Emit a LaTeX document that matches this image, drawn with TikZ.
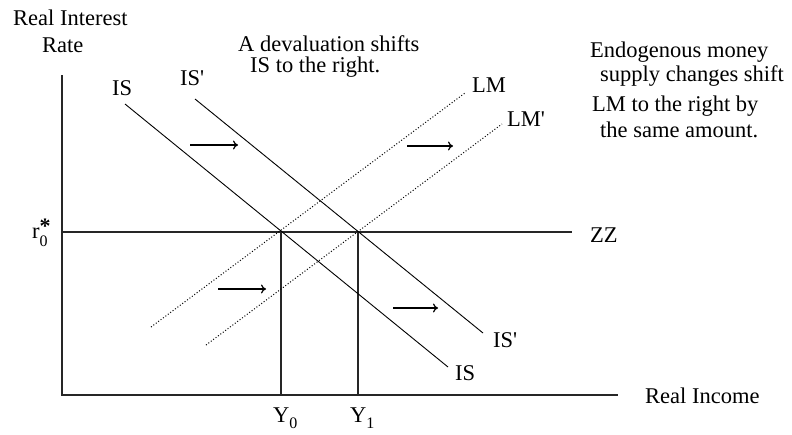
\documentclass[tikz,border=0pt]{standalone}
\usepackage{fontspec}
\setmainfont{Liberation Serif}
\usetikzlibrary{arrows.meta}
\newcommand{\lowsub}[1]{\raisebox{-6pt}{\fontsize{16}{16}\selectfont #1}}
\newcommand{\starsub}[2]{\rlap{\raisebox{5pt}{\fontsize{22}{22}\selectfont\bfseries #1}}\raisebox{-8pt}{\fontsize{16}{16}\selectfont #2}}

\begin{document}
\begin{tikzpicture}[x=1pt,y=-1pt,
      every node/.style={font=\fontsize{22.5}{26}\selectfont,inner sep=0pt,anchor=base west},
      axis/.style={line width=1.6pt,black!85},
      guide/.style={line width=1.6pt,black!85},
      isline/.style={line width=0.9pt},
      lmline/.style={line width=1pt,dash pattern=on 1pt off 2pt},
      push/.style={-{To[length=5pt,width=9pt]},line width=1.2pt},
    ]
    \useasboundingbox (0,0) rectangle (792,434);

    % Axes
    \coordinate (origin) at (62,395);
    \coordinate (ytop) at (62,75);
    \coordinate (xend) at (618,395);
    \draw[axis] (ytop) -- (origin) -- (xend);

    % World interest rate ZZ and the two equilibria
    \coordinate (zzL) at (62,232);
    \coordinate (zzR) at (572,232);
    \coordinate (eqA) at (281,232);
    \coordinate (eqB) at (358,232);
    \coordinate (footA) at (281,395);
    \coordinate (footB) at (358,395);
    \draw[guide] (zzL) -- (zzR);
    \draw[guide] (eqA) -- (footA);
    \draw[guide] (eqB) -- (footB);

    % IS curves: before and after the devaluation
    \coordinate (isTop) at (125,104);
    \coordinate (isEnd) at (448,367);
    \coordinate (isPTop) at (195,99);
    \coordinate (isPEnd) at (483,333);
    \draw[isline] (isTop) -- (isEnd);
    \draw[isline] (isPTop) -- (isPEnd);

    % LM curves (dotted)
    \coordinate (lmLow) at (151,327);
    \coordinate (lmHigh) at (465,93);
    \coordinate (lmPLow) at (206,345);
    \coordinate (lmPHigh) at (502,124);
    \draw[lmline] (lmLow) -- (lmHigh);
    \draw[lmline] (lmPLow) -- (lmPHigh);

    % Shift arrows
    \coordinate (a1) at (190,145); \coordinate (b1) at (238,145);
    \coordinate (a2) at (407,146); \coordinate (b2) at (453,146);
    \coordinate (a3) at (218,289); \coordinate (b3) at (266,289);
    \coordinate (a4) at (393,308); \coordinate (b4) at (438,308);
    \draw[push] (a1) -- (b1);
    \draw[push] (a2) -- (b2);
    \draw[push] (a3) -- (b3);
    \draw[push] (a4) -- (b4);

    % Axis titles
    \node (ylab1) at (13,25) {Real Interest};
    \node (ylab2) at (42,52) {Rate};
    \node (xlab) at (645,403) {Real\ Income};
    \node (rstar) at (32,238) {r\starsub{*}{0}};
    \node (y0lab) at (273,422) {Y\lowsub{0}};
    \node (y1lab) at (350,422) {Y\lowsub{1}};

    % Curve labels
    \node (isL) at (112,95) {IS};
    \node (isPL) at (180,85) {IS\textquotesingle};
    \node (lmL) at (472,92) {LM};
    \node (lmPL) at (507,126) {LM\textquotesingle};
    \node (isPR) at (493,347) {IS\textquotesingle};
    \node (isR) at (455,380) {IS};
    \node (zzlab) at (590,242) {ZZ};

    % Notes
    \node (devA) at (238,51) {A\ devaluation\ shifts};
    \node (devB) at (250,72) {IS\ to the right.};
    \node (endoA) at (590,57) {Endogenous\ money};
    \node (endoB) at (600,81) {supply\ changes shift};
    \node (endoC) at (592,111) {LM\ to\ the\ right by};
    \node (endoD) at (600,137) {the same\ amount.};

  \end{tikzpicture}
\end{document}
